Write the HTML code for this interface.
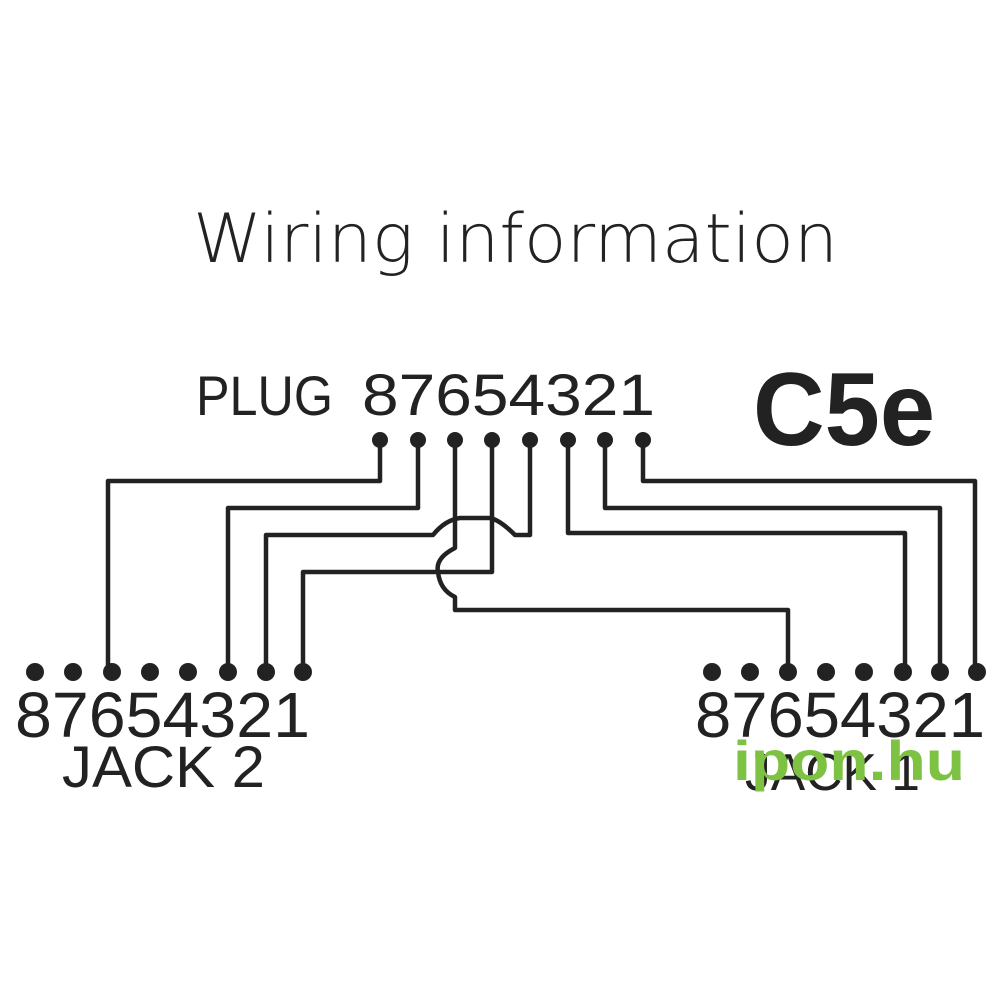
<!DOCTYPE html>
<html><head><meta charset="utf-8"><style>
html,body{margin:0;padding:0;background:#fff;width:1000px;height:1000px;overflow:hidden}
svg{display:block}
</style></head><body>
<svg width="1000" height="1000" viewBox="0 0 1000 1000" xmlns="http://www.w3.org/2000/svg">
<rect width="1000" height="1000" fill="#fff"/>
<g font-family="Liberation Sans, sans-serif" fill="#222">
<text x="193" y="262" font-size="68" font-family="DejaVu Sans, Liberation Sans, sans-serif" font-weight="200" textLength="645" lengthAdjust="spacingAndGlyphs">Wiring  information</text>
<text x="196" y="415" font-size="56" textLength="137" lengthAdjust="spacingAndGlyphs">PLUG</text>
<text x="362" y="415" font-size="58" textLength="293" lengthAdjust="spacingAndGlyphs">87654321</text>
<text x="753" y="445" font-size="104" font-weight="bold" textLength="182" lengthAdjust="spacingAndGlyphs">C5e</text>
<text x="15" y="737" font-size="64" textLength="295" lengthAdjust="spacingAndGlyphs">87654321</text>
<text x="62" y="787" font-size="58" textLength="203" lengthAdjust="spacingAndGlyphs">JACK  2</text>
<text x="695" y="737" font-size="64" textLength="290" lengthAdjust="spacingAndGlyphs">87654321</text>
<text x="745" y="790" font-size="52" textLength="175" lengthAdjust="spacingAndGlyphs">JACK  1</text>
</g>
<g fill="none" stroke="#222" stroke-width="4.5" stroke-linejoin="round">
<path d="M380 440 V481 H108 V672"/>
<path d="M418 440 V508 H228 V672"/>
<path d="M492 440 V572 H303 V672"/>
<path d="M530 440 V535 H515 Q500 520 490 518 H460 Q445 520 433 535 H266 V672"/>
<path d="M455 440 V548 Q435 558 438 572 Q440 590 455 597 V610 H788 V672"/>
<path d="M568 440 V533 H905 V672"/>
<path d="M605 440 V508 H940 V672"/>
<path d="M643 440 V481 H975 V672"/>
</g>
<g fill="#222">
<circle cx="380" cy="440" r="8"/><circle cx="418" cy="440" r="8"/><circle cx="455" cy="440" r="8"/><circle cx="492" cy="440" r="8"/>
<circle cx="530" cy="440" r="8"/><circle cx="568" cy="440" r="8"/><circle cx="605" cy="440" r="8"/><circle cx="643" cy="440" r="8"/>
<circle cx="35" cy="672" r="9"/><circle cx="73" cy="672" r="9"/><circle cx="112" cy="672" r="9"/><circle cx="150" cy="672" r="9"/>
<circle cx="188" cy="672" r="9"/><circle cx="228" cy="672" r="9"/><circle cx="266" cy="672" r="9"/><circle cx="303" cy="672" r="9"/>
<circle cx="712" cy="672" r="9"/><circle cx="750" cy="672" r="9"/><circle cx="788" cy="672" r="9"/><circle cx="826" cy="672" r="9"/>
<circle cx="864" cy="672" r="9"/><circle cx="903" cy="672" r="9"/><circle cx="940" cy="672" r="9"/><circle cx="977" cy="672" r="9"/>
</g>
<text x="733" y="780" font-family="Liberation Sans, sans-serif" font-weight="bold" font-size="56" fill="#7dc242" textLength="232" lengthAdjust="spacingAndGlyphs">ipon.hu</text>
</svg>
</body></html>
